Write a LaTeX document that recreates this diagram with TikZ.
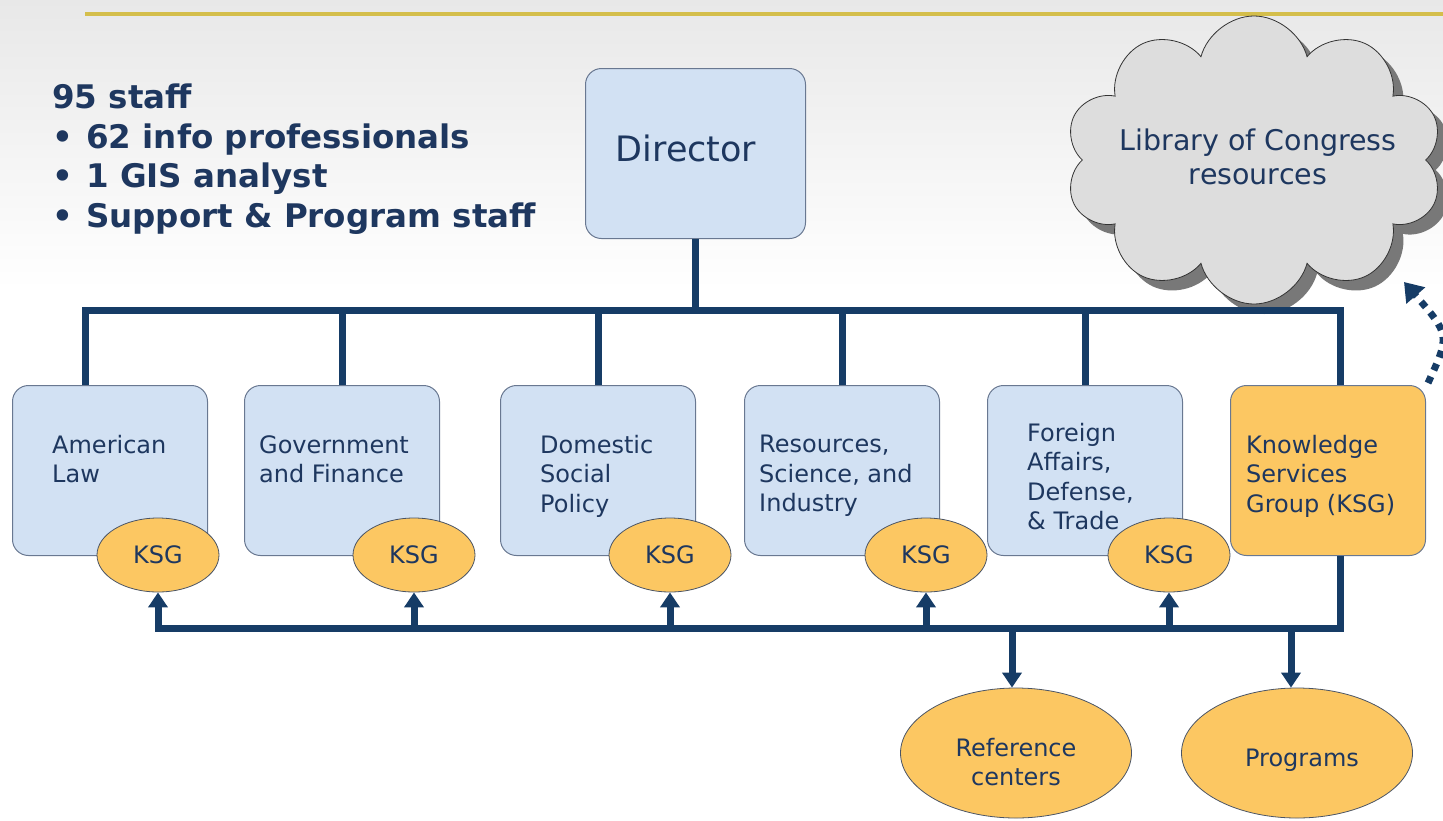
\documentclass[tikz,border=0pt]{standalone}
\usepackage{fontspec}
\setmainfont{DejaVu Sans}
\usetikzlibrary{shapes.geometric,shapes.symbols,arrows.meta,shadows}
\definecolor{navy}{RGB}{22,60,102}
\definecolor{txt}{RGB}{30,55,95}
\definecolor{boxblue}{RGB}{210,225,243}
\definecolor{boxline}{RGB}{105,120,145}
\definecolor{ksgor}{RGB}{252,199,98}
\definecolor{gold}{RGB}{212,190,75}
\definecolor{cloudfill}{RGB}{221,221,221}
\definecolor{shadowgray}{RGB}{120,120,120}
\begin{document}
\begin{tikzpicture}[x=1pt,y=-1pt,
  dept/.style={draw=boxline, line width=1pt, fill=boxblue, rounded corners=16pt,
     minimum width=195pt, minimum height=170pt, anchor=north west, inner sep=0},
  ksgbox/.style={dept, fill=ksgor},
  dtext/.style={text=txt, font=\fontsize{24}{29.5}\selectfont, align=left, anchor=north west, inner sep=0},
  ksg/.style={ellipse, draw=boxline!70!black, line width=0.8pt, fill=ksgor, inner sep=0,
     minimum width=122pt, minimum height=74pt, text=txt, font=\fontsize{24}{29.5}\selectfont},
  bigell/.style={ksg, minimum width=231pt, minimum height=130pt},
  lbl/.style={text=txt, font=\fontsize{24}{29.5}\selectfont, align=center, inner sep=0},
  conn/.style={draw=navy, line width=7pt},
  arr/.style={conn, -{Triangle[width=19pt,length=15pt]}},
  staff/.style={text=txt, font=\fontsize{32.5}{39.5}\selectfont\bfseries, align=left, anchor=north west, inner sep=0}
]
\useasboundingbox (0,0) rectangle (1443,820);
\shade[top color=black!9, bottom color=white] (0,0) rectangle (1443,290);
\draw[gold, line width=4.5pt] (85,14) -- (1443,14);

% staff text
\node[staff] (staff) at (52,84) {95 staff\\
\makebox[34pt][l]{\textbullet}62 info professionals\\
\makebox[34pt][l]{\textbullet}1 GIS analyst\\
\makebox[34pt][l]{\textbullet}Support \& Program staff};

% director
\node[dept, minimum width=220pt, minimum height=170pt] (dir) at (585,68) {};
\node[lbl, font=\fontsize{35}{40}\selectfont] (dirlabel) at (686,148) {Director};

% cloud
\node[cloud, cloud puffs=10, aspect=1.35, draw=black!80, line width=0.8pt, fill=cloudfill,
      minimum width=378pt, minimum height=288pt, inner sep=0,
      drop shadow={shadow xshift=10pt, shadow yshift=-10pt, fill=shadowgray, opacity=1}]
      (cloud) at (1254,160) {};
\node[lbl, font=\fontsize{28.5}{34}\selectfont] (cloudlabel) at (1258,157) {Library of Congress\\resources};

% departments
\node[dept] (d1) at (12,385) {};
\node[dept] (d2) at (244,385) {};
\node[dept] (d3) at (500,385) {};
\node[dept] (d4) at (744,385) {};
\node[dept] (d5) at (987,385) {};
\node[ksgbox] (d6) at (1230,385) {};

\node[dtext] (t1) at (52,435) {American\\Law};
\node[dtext] (t2) at (259,435) {Government\\and Finance};
\node[dtext] (t3) at (540,435) {Domestic\\Social\\Policy};
\node[dtext] (t4) at (759,435) {Resources,\\Science, and\\Industry};
\node[dtext] (t5) at (1027,423) {Foreign\\Affairs,\\Defense,\\\& Trade};
\node[dtext] (t6) at (1246,435) {Knowledge\\Services\\Group (KSG)};

% KSG ellipses
\node[ksg] (k1) at (158,555) {KSG};
\node[ksg] (k2) at (414,555) {KSG};
\node[ksg] (k3) at (670,555) {KSG};
\node[ksg] (k4) at (926,555) {KSG};
\node[ksg] (k5) at (1169,555) {KSG};

% bottom ellipses
\node[bigell, label={[lbl,yshift=-9pt]center:Reference\\centers}] (ref) at (1016,753) {};
\node[bigell, label={[lbl,yshift=-7pt,xshift=5pt]center:Programs}] (prog) at (1297,753) {};

% top tree
\coordinate (b1) at (85,310);
\coordinate (b6) at (1340,310);
\draw[conn] (dir.south) -- (dir.south |- b1);
\draw[conn] (d1.north -| b1) -- (b1) -- (b6) -- (d6.north -| b6);
\draw[conn] (d2.north) -- (d2.north |- b1);
\draw[conn] (d3.north) -- (d3.north |- b1);
\draw[conn] (d4.north) -- (d4.north |- b1);
\draw[conn] (d5.north) -- (d5.north |- b1);

% bottom bus
\coordinate (c0) at (1340,628);
\draw[conn] (d6.south -| c0) -- (c0) -- ([xshift=-3.5pt]k1.south |- c0);
\draw[arr] (k1.south |- c0) -- (k1.south);
\draw[arr] (k2.south |- c0) -- (k2.south);
\draw[arr] (k3.south |- c0) -- (k3.south);
\draw[arr] (k4.south |- c0) -- (k4.south);
\draw[arr] (k5.south |- c0) -- (k5.south);
\draw[arr] ([xshift=-4pt]ref.north |- c0) -- ([xshift=-4pt]ref.north);
\draw[arr] ([xshift=-6pt]prog.north |- c0) -- ([xshift=-6pt]prog.north);

% dotted arrow to cloud
\coordinate (ds) at (1428,383);
\coordinate (de) at (1404,282);
\draw[draw=navy, line width=7pt, dash pattern=on 7pt off 7pt,
      -{Triangle[width=24pt,length=18pt]}] (ds) .. controls (1450,335) .. (de);
\end{tikzpicture}
\end{document}
